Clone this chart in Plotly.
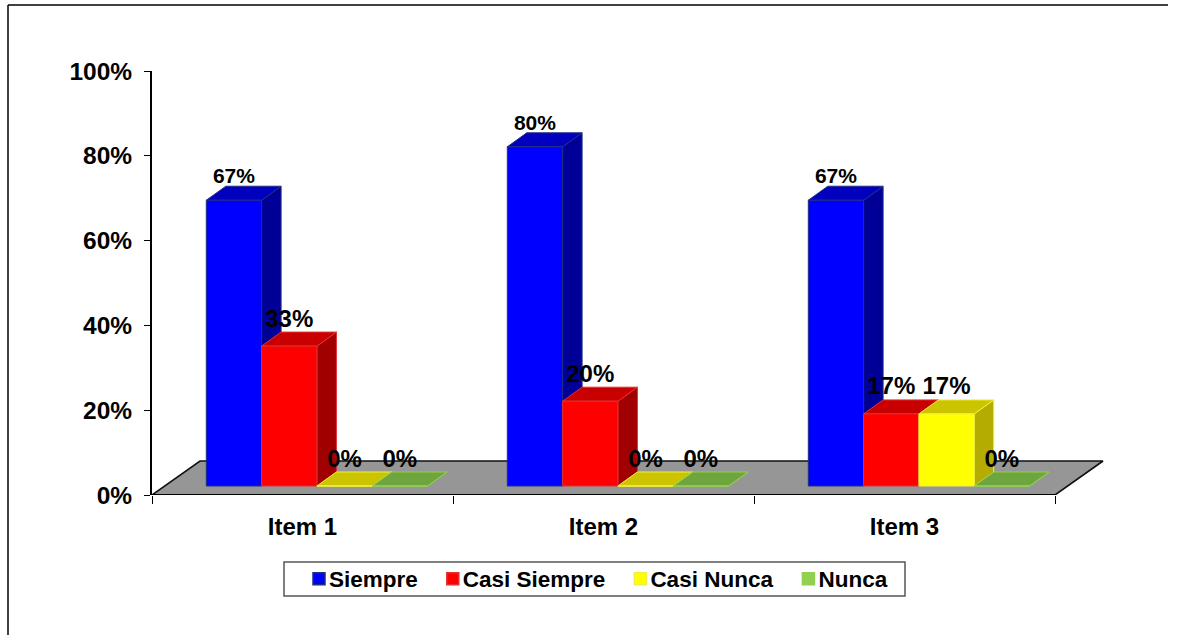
import plotly.graph_objects as go

categories = ["Item 1", "Item 2", "Item 3"]
series_names = ["Siempre", "Casi Siempre", "Casi Nunca", "Nunca"]
siempre = [67.4, 80, 67.4]
casi_siempre = [33, 20, 17]
casi_nunca = [0, 0, 17]
nunca = [0, 0, 0]
series_values = [siempre, casi_siempre, casi_nunca, nunca]
y_ticks = [0, 20, 40, 60, 80, 100]

front_colors = ["#0000FF", "#FF0000", "#FFFF00", "#92D050"]
side_colors = ["#000096", "#A00000", "#B4AC00", "#6CA53C"]
top_colors = ["#0000BE", "#C80000", "#CCC400", "#6FA53F"]
edge_colors = ["#1F2F80", "#E03030", "#F0F040", "#92D050"]

FONT = "Liberation Sans"
PX_X = 301.0      # pixels per category
PX_Y = 4.24       # pixels per percent
BAR_W = 55.3 / PX_X
GROUP_LEFT = 54.3 / PX_X
LIFT = 9 / PX_Y
DX = 19.5 / PX_X
DY = 14 / PX_Y
FLOOR_DX = 48 / PX_X
FLOOR_DY = 34 / PX_Y
LABEL_UP = [22.5 / PX_Y, 25.5 / PX_Y, 25.5 / PX_Y, 25.5 / PX_Y]

W, H = 1178, 635
L, R, T, B = 152, 71, 71, 140
PW = W - L - R
PH = H - T - B
X_MAX = PW / PX_X

fig = go.Figure()

# floor
fig.add_trace(go.Scatter(
    x=[0, FLOOR_DX, len(categories) + FLOOR_DX, len(categories), 0],
    y=[0, FLOOR_DY, FLOOR_DY, 0, 0],
    mode="lines", fill="toself", fillcolor="#969696",
    line=dict(color="#111111", width=1.6),
    showlegend=False, hoverinfo="skip"))


def add_face(poly_fn, values, s, color, edge):
    xs, ys = [], []
    for c, v in enumerate(values):
        x0 = c + GROUP_LEFT + s * BAR_W
        x1 = x0 + BAR_W
        y1 = LIFT + v
        px, py = poly_fn(x0, x1, y1)
        xs += px + [None]
        ys += py + [None]
    fig.add_trace(go.Scatter(
        x=xs, y=ys, mode="lines", fill="toself", fillcolor=color,
        line=dict(color=edge, width=1),
        showlegend=False, hoverinfo="skip"))


def side(x0, x1, y1):
    return [x1, x1 + DX, x1 + DX, x1, x1], [LIFT, LIFT + DY, y1 + DY, y1, LIFT]


def top(x0, x1, y1):
    return [x0, x0 + DX, x1 + DX, x1, x0], [y1, y1 + DY, y1 + DY, y1, y1]


def front(x0, x1, y1):
    return [x0, x1, x1, x0, x0], [LIFT, LIFT, y1, y1, LIFT]


for s, values in enumerate(series_values):
    add_face(side, values, s, side_colors[s], edge_colors[s])
    add_face(top, values, s, top_colors[s], edge_colors[s])
    add_face(front, values, s, front_colors[s], edge_colors[s])

# data labels
for s, values in enumerate(series_values):
    fig.add_trace(go.Scatter(
        x=[c + GROUP_LEFT + (s + 0.5) * BAR_W for c in range(len(categories))],
        y=[LIFT + v + LABEL_UP[s] for v in values],
        mode="text",
        text=[f"{v:.0f}%" for v in values],
        textposition="middle center",
        textfont=dict(family=FONT, size=[21 if v > 60 else 24 for v in values],
                      color="black", weight=700),
        cliponaxis=False, showlegend=False,
        hovertemplate="%{text}<extra></extra>"))

# legend entries
for s, name in enumerate(series_names):
    fig.add_trace(go.Scatter(
        x=[None], y=[None], mode="markers", name=name,
        marker=dict(symbol="square", size=12, color=front_colors[s],
                    line=dict(color=edge_colors[s], width=1.5))))


def px_x(p):
    return (p - L) / PW


def px_y(p):
    return (H - B - p) / PH


frame = dict(type="line", xref="paper", yref="paper",
             line=dict(color="black", width=1.5))

fig.update_layout(
    width=W, height=H,
    margin=dict(l=L, r=R, t=T, b=B, pad=0),
    paper_bgcolor="white", plot_bgcolor="rgba(0,0,0,0)",
    font=dict(family=FONT, size=24.5, color="black", weight=700),
    xaxis=dict(
        range=[0, X_MAX],
        tickmode="array",
        tickvals=[c + 0.5 for c in range(len(categories))],
        ticktext=categories,
        ticks="", showgrid=False, zeroline=False,
        showline=False,
        ticklabelstandoff=15,
        tickfont=dict(family=FONT, size=24, color="black", weight=700),
        minor=dict(ticks="outside", ticklen=8, tickwidth=1, tickcolor="black",
                   tickmode="array", tickvals=list(range(len(categories) + 1)),
                   showgrid=False),
        fixedrange=True),
    yaxis=dict(
        range=[0, 100],
        tickmode="array", tickvals=y_ticks,
        ticktext=[f"{t}%" for t in y_ticks],
        ticks="outside", ticklen=6, tickwidth=1, tickcolor="black",
        showgrid=False, zeroline=False,
        showline=True, linecolor="black", linewidth=2,
        ticklabelstandoff=7,
        fixedrange=True),
    legend=dict(
        orientation="h",
        x=px_x(289), xanchor="left",
        y=px_y(579), yanchor="middle",
        bgcolor="rgba(0,0,0,0)", borderwidth=0,
        font=dict(family=FONT, size=22.5, color="black", weight=700)),
    shapes=[
        dict(frame, x0=px_x(8), x1=px_x(8), y0=px_y(5), y1=px_y(635)),
        dict(frame, x0=px_x(8), x1=px_x(1168), y0=px_y(5), y1=px_y(5)),
        dict(type="rect", xref="paper", yref="paper",
             x0=px_x(284), x1=px_x(905), y0=px_y(596), y1=px_y(562),
             line=dict(color="#555555", width=1.5), fillcolor="white", layer="below"),
        dict(type="line", xref="x", yref="y", x0=0, x1=len(categories), y0=0, y1=0,
             line=dict(color="black", width=2)),
    ],
)

post = """
document.body.style.margin = '0';
var gd = document.getElementById('{plot_id}');
function moveSwatches() {
  gd.querySelectorAll('.legend .legendsymbols').forEach(function (g) {
    g.setAttribute('transform', 'translate(10,0)');
  });
}
moveSwatches();
gd.on('plotly_afterplot', moveSwatches);
"""
fig.write_html("out.html", post_script=post, config={"displayModeBar": False})
